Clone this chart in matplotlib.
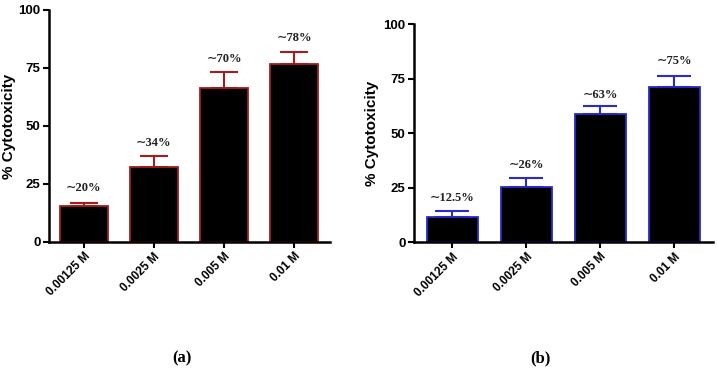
import matplotlib
matplotlib.use("Agg")
import matplotlib.pyplot as plt

# concentrations
conc = ["0.00125 M", "0.0025 M", "0.005 M", "0.01 M"]

# panel (a)
vals_a = [15.5, 32.4, 66.3, 76.6]
err_a = [1.5, 4.8, 6.9, 5.5]
lab_a = ["∼20%", "∼34%", "∼70%", "∼78%"]
lab_y_a = [23.3, 42.7, 78.9, 88.0]

# panel (b)
vals_b = [11.8, 25.5, 58.8, 71.1]
err_b = [2.7, 3.9, 3.7, 5.3]
lab_b = ["∼12.5%", "∼26%", "∼63%", "∼75%"]
lab_y_b = [20.2, 35.5, 67.6, 83.2]

sans = "Liberation Sans"
serif = ["Liberation Serif", "DejaVu Serif"]

fig = plt.figure(figsize=(7.17, 3.70), dpi=100)
ax1 = fig.add_axes([0.068, 0.346, 0.392, 0.627])
ax2 = fig.add_axes([0.577, 0.345, 0.417, 0.590])


def panel(ax, vals, err, labs, laby, edge, width, cap, xlim, labx):
    x = list(range(len(vals)))
    ax.bar(x, vals, width=width, color="black", edgecolor=edge, linewidth=1.3, zorder=2)
    ax.errorbar(x, vals, yerr=[[0] * len(err), err], fmt="none", ecolor=edge,
                elinewidth=1.5, capsize=cap, capthick=1.5, zorder=1)
    for xi, t, yy in zip(x, labs, laby):
        ax.text(xi, yy, t, ha="center", va="center", fontsize=9,
                fontweight="bold", family=serif, color="#222222")
    ax.set_ylim(0, 100)
    ax.set_xlim(*xlim)
    ax.set_yticks([0, 25, 50, 75, 100])
    ax.set_xticks(x)
    ax.set_xticklabels(conc, rotation=45, ha="right", rotation_mode="anchor",
                       fontsize=8.5, fontweight="bold", family=sans)
    for lb in ax.get_yticklabels():
        lb.set_fontweight("bold")
        lb.set_family(sans)
        lb.set_fontsize(9.5)
    ax.set_ylabel("% Cytotoxicity", fontsize=11, fontweight="bold", family=sans)
    ax.yaxis.set_label_coords(labx, 0.5)
    ax.spines["top"].set_visible(False)
    ax.spines["right"].set_visible(False)
    ax.spines["left"].set_linewidth(1.8)
    ax.spines["bottom"].set_linewidth(1.8)
    ax.tick_params(axis="both", width=1.5, length=4, pad=2)


panel(ax1, vals_a, err_a, lab_a, lab_y_a, "#a51c1c", 0.68, 10, (-0.5, 3.51), -0.117)
panel(ax2, vals_b, err_b, lab_b, lab_y_b, "#2a2ad0", 0.69, 12.5, (-0.52, 3.52), -0.117)

fig.text(182 / 717, 1 - 358 / 370, "(a)", ha="center", va="center",
         fontsize=12, fontweight="bold", family=serif)
fig.text(540 / 717, 1 - 358 / 370, "(b)", ha="center", va="center",
         fontsize=12, fontweight="bold", family=serif)

fig.savefig("out.png", dpi=100)
